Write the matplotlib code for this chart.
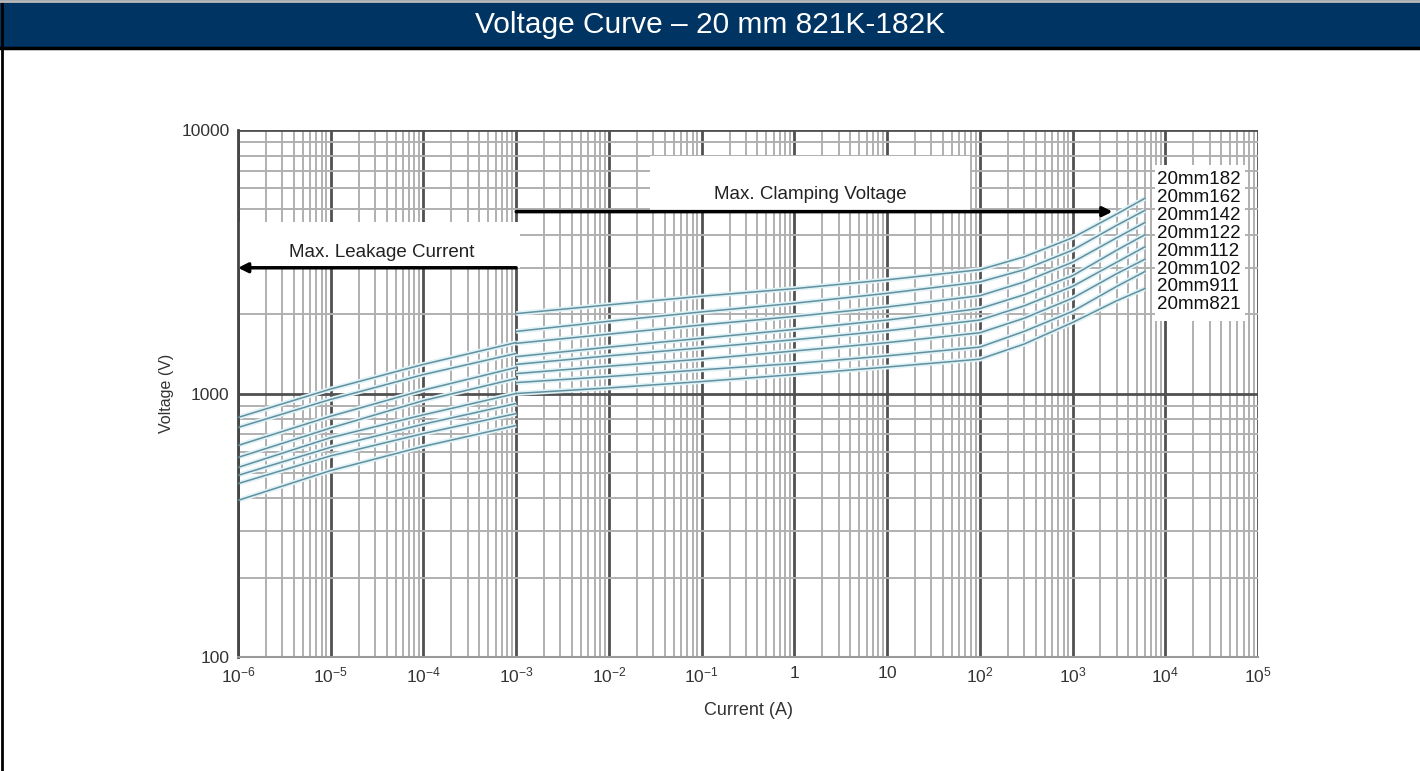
import matplotlib
matplotlib.use("Agg")
import matplotlib.pyplot as plt
from matplotlib.patches import Rectangle
import numpy as np

plt.rcParams['font.family'] = ['Liberation Sans', 'DejaVu Sans']
plt.rcParams['mathtext.fontset'] = 'custom'
plt.rcParams['mathtext.rm'] = 'Liberation Sans'

# leakage region (1e-6 .. 1e-3 A)
leak_current = [1e-6, 1e-5, 1e-4, 1e-3]
# clamping region (1e-3 .. 6e3 A)
clamp_current = [1e-3, 1e-2, 1e-1, 1, 10, 100, 300, 1000, 3000, 6000]

models = ['20mm182', '20mm162', '20mm142', '20mm122',
          '20mm112', '20mm102', '20mm911', '20mm821']

leak_182 = [811, 1040, 1290, 1561]
leak_162 = [743, 950, 1180, 1419]
leak_142 = [635, 820, 1030, 1255]
leak_122 = [572, 740, 940, 1140]
leak_112 = [524, 680, 830, 1000]
leak_102 = [489, 625, 765, 916]
leak_911 = [455, 580, 705, 839]
leak_821 = [393, 510, 630, 756]

clamp_182 = [2010, 2170, 2340, 2500, 2700, 2950, 3300, 3900, 4800, 5500]
clamp_162 = [1720, 1880, 2040, 2200, 2400, 2650, 2950, 3500, 4350, 4950]
clamp_142 = [1550, 1680, 1820, 1960, 2130, 2350, 2650, 3150, 3900, 4450]
clamp_122 = [1380, 1500, 1620, 1750, 1900, 2100, 2370, 2800, 3500, 4000]
clamp_112 = [1290, 1390, 1490, 1600, 1730, 1900, 2150, 2550, 3150, 3600]
clamp_102 = [1190, 1270, 1350, 1450, 1560, 1700, 1930, 2300, 2850, 3230]
clamp_911 = [1100, 1160, 1230, 1300, 1390, 1500, 1720, 2050, 2550, 2900]
clamp_821 = [1000, 1050, 1110, 1180, 1260, 1350, 1540, 1860, 2250, 2500]

leak_all = [leak_182, leak_162, leak_142, leak_122, leak_112, leak_102, leak_911, leak_821]
clamp_all = [clamp_182, clamp_162, clamp_142, clamp_122, clamp_112, clamp_102, clamp_911, clamp_821]

x_ticks = [1e-6, 1e-5, 1e-4, 1e-3, 1e-2, 1e-1, 1, 10, 1e2, 1e3, 1e4, 1e5]
x_labels = [r'$\mathregular{10^{-6}}$', r'$\mathregular{10^{-5}}$', r'$\mathregular{10^{-4}}$',
            r'$\mathregular{10^{-3}}$', r'$\mathregular{10^{-2}}$', r'$\mathregular{10^{-1}}$',
            r'$\mathregular{1}$', r'$\mathregular{10}$', r'$\mathregular{10^{2}}$',
            r'$\mathregular{10^{3}}$', r'$\mathregular{10^{4}}$', r'$\mathregular{10^{5}}$']
y_ticks = [100, 1000, 10000]
y_labels = ['100', '1000', '10000']

fig = plt.figure(figsize=(14.2, 7.71), dpi=100)

# header bar
fig.patches.append(Rectangle((0, 1 - 47 / 771), 1, 47 / 771, transform=fig.transFigure,
                             facecolor='#003463', edgecolor='none', zorder=0))
fig.add_artist(plt.Line2D([0, 1], [1 - 48 / 771, 1 - 48 / 771], transform=fig.transFigure,
                          color='black', lw=2.5))
fig.add_artist(plt.Line2D([0.0015, 0.0015], [0, 1], transform=fig.transFigure,
                          color='black', lw=2))
fig.add_artist(plt.Line2D([0, 1], [0.999, 0.999], transform=fig.transFigure,
                          color='#bbbbbb', lw=2))
fig.text(0.5, 1 - 25 / 771, 'Voltage Curve \u2013 20 mm 821K-182K', color='white',
         fontsize=21.5, ha='center', va='center')

ax = fig.add_axes([238 / 1420, 1 - 657 / 771, 1020 / 1420, 527 / 771])
ax.set_xscale('log')
ax.set_yscale('log')
ax.set_xlim(1e-6, 1e5)
ax.set_ylim(100, 10000)

ax.set_axisbelow(True)
ax.grid(True, which='minor', color='#b0b0b0', lw=1.4)
ax.grid(True, which='major', color='#505050', lw=2.0)
ax.xaxis.set_minor_locator(matplotlib.ticker.LogLocator(base=10, subs=np.arange(2, 10), numticks=20))
ax.yaxis.set_minor_locator(matplotlib.ticker.LogLocator(base=10, subs=np.arange(2, 10), numticks=20))
ax.xaxis.set_minor_formatter(matplotlib.ticker.NullFormatter())
ax.yaxis.set_minor_formatter(matplotlib.ticker.NullFormatter())
ax.set_xticks(x_ticks)
ax.set_xticklabels(x_labels)
ax.set_yticks(y_ticks)
ax.set_yticklabels(y_labels)
ax.tick_params(which='both', length=0, labelsize=12.5, colors='#333333')
ax.tick_params(axis='y', pad=6)
ax.tick_params(axis='x', pad=6)

for s in ['top', 'right']:
    ax.spines[s].set_visible(False)
ax.spines['left'].set_color('#444444')
ax.spines['left'].set_linewidth(2)
ax.spines['bottom'].set_color('#999999')
ax.spines['bottom'].set_linewidth(1.5)

for lv, cv in zip(leak_all, clamp_all):
    ax.plot(leak_current, lv, color='#dff2f6', lw=3.5, zorder=2, solid_capstyle='butt')
    ax.plot(clamp_current, cv, color='#dff2f6', lw=3.5, zorder=2, solid_capstyle='butt')
for lv, cv in zip(leak_all, clamp_all):
    ax.plot(leak_current, lv, color='#62909f', lw=1.1, zorder=3)
    ax.plot(clamp_current, cv, color='#62909f', lw=1.1, zorder=3)

# white boxes for annotations
ax.add_patch(Rectangle((1e-6, 3000), 1.1e-3 - 1e-6, 4460 - 3000, facecolor='white',
                       edgecolor='none', zorder=1))
ax.add_patch(Rectangle((0.0275, 4950), 79 - 0.0275, 8000 - 4950, facecolor='white',
                       edgecolor='none', zorder=1))
ax.add_patch(Rectangle((7800, 1890), 73000 - 7800, 7340 - 1890, facecolor='white',
                       edgecolor='none', zorder=4))

ax.annotate('', xy=(1e-6, 3000), xytext=(1e-3, 3000),
            arrowprops=dict(arrowstyle='-|>', color='black', lw=2.5, mutation_scale=14,
                            shrinkA=0, shrinkB=0), zorder=5)
ax.text(3.57e-5, 3430, 'Max. Leakage Current', fontsize=13.5, ha='center', va='center',
        color='#222222', zorder=5)
ax.annotate('', xy=(2700, 4900), xytext=(1e-3, 4900),
            arrowprops=dict(arrowstyle='-|>', color='black', lw=2.5, mutation_scale=14,
                            shrinkA=0, shrinkB=0), zorder=5)
ax.text(1.48, 5690, 'Max. Clamping Voltage', fontsize=13.5, ha='center', va='center',
        color='#222222', zorder=5)

for i, name in enumerate(models):
    fig.text(1157 / 1420, 1 - (180 + i * 17.8) / 771, name, fontsize=13.5,
             ha='left', va='center', color='#111111', zorder=6)

ax.set_xlabel('Current (A)', fontsize=13, color='#333333', labelpad=12)
ax.set_ylabel('Voltage (V)', fontsize=11.5, color='#333333', labelpad=5)

fig.savefig('out.png', dpi=100)
